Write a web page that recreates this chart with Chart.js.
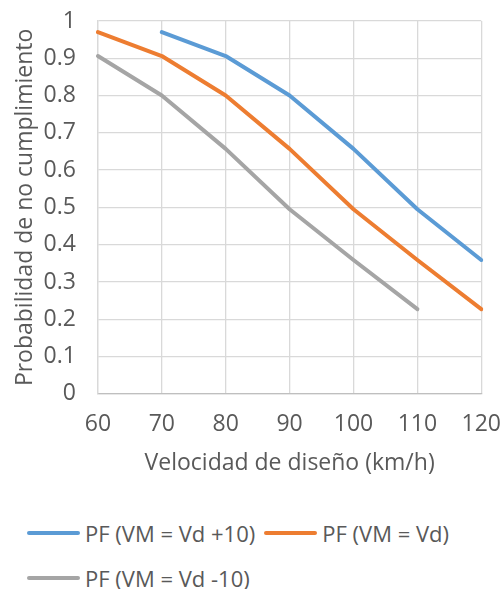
<!DOCTYPE html>
<html>
<head>
<meta charset="utf-8">
<script src="https://cdn.jsdelivr.net/npm/chart.js@4.4.1/dist/chart.umd.min.js"></script>
<style>
  body { margin: 0; background: #fff; font-family: "Open Sans", sans-serif; }
  #wrap { position: relative; width: 503px; height: 589px; overflow: hidden; }
  #chartBox { position: absolute; left: 0; top: 0; width: 503px; height: 480px; }
  #legend { position: absolute; left: 27px; top: 510px; color: #595959; font-size: 22px; }
  .row { display: flex; align-items: center; height: 45px; white-space: nowrap; }
  .item { display: flex; align-items: center; margin-right: 9px; }
  .swatch { width: 53px; height: 4px; border-radius: 2px; margin-right: 5px; }
</style>
</head>
<body>
<div id="wrap">
  <div id="chartBox"><canvas id="chart"></canvas></div>
  <div id="legend"></div>
</div>
<script>
// Datos
const velocidades = ['60', '70', '80', '90', '100', '110', '120'];
const pfMas10 = [null, 0.97, 0.906, 0.80, 0.657, 0.495, 0.359];
const pfIgual = [0.97, 0.906, 0.80, 0.657, 0.495, 0.359, 0.227];
const pfMenos10 = [0.906, 0.80, 0.657, 0.495, 0.359, 0.227, null];
const nombres = ['PF (VM = Vd +10)', 'PF (VM = Vd)', 'PF (VM = Vd -10)'];
const colores = ['#5B9BD5', '#ED7D31', '#A5A5A5'];

const textColor = '#595959';
const gridColor = '#D9D9D9';
const fontFamily = '"Open Sans", sans-serif';
const fontSize = 23;

const series = [pfMas10, pfIgual, pfMenos10];

const ctx = document.getElementById('chart').getContext('2d');
const chart = new Chart(ctx, {
  type: 'line',
  data: {
    labels: velocidades,
    datasets: series.map((data, i) => ({
      label: nombres[i],
      data: data,
      borderColor: colores[i],
      backgroundColor: colores[i],
      borderWidth: 4,
      borderCapStyle: 'round',
      borderJoinStyle: 'round',
      pointRadius: 0,
      tension: 0,
      fill: false
    }))
  },
  options: {
    responsive: true,
    maintainAspectRatio: false,
    animation: false,
    layout: { padding: { top: 21, right: 0, left: 0, bottom: 0 } },
    plugins: {
      legend: { display: false },
      tooltip: { enabled: false }
    },
    scales: {
      x: {
        offset: false,
        // marcas invisibles: solo separan las etiquetas del eje
        grid: { color: gridColor, lineWidth: 1.3, drawTicks: true, tickLength: 15, tickColor: 'rgba(0,0,0,0)' },
        border: { color: '#BFBFBF', width: 1.3 },
        ticks: { color: textColor, font: { family: fontFamily, size: fontSize }, padding: 2, maxRotation: 0 },
        title: {
          display: true,
          text: 'Velocidad de diseño (km/h)',
          color: textColor,
          font: { family: fontFamily, size: fontSize },
          padding: { top: 9, bottom: 3 }
        }
      },
      y: {
        min: 0,
        max: 1,
        grid: { color: gridColor, lineWidth: 1.3, drawTicks: true, tickLength: 20, tickColor: 'rgba(0,0,0,0)' },
        border: { color: gridColor, width: 1.3 },
        ticks: {
          stepSize: 0.1,
          color: textColor,
          font: { family: fontFamily, size: fontSize },
          padding: 2,
          callback: function(value) {
            return String(Math.round(value * 10) / 10);
          }
        },
        title: {
          display: true,
          text: 'Probabilidad de no cumplimiento',
          color: textColor,
          font: { family: fontFamily, size: fontSize },
          padding: { top: 12, bottom: 2 }
        }
      }
    }
  }
});

// Leyenda en HTML (filas como en el original)
const legend = document.getElementById('legend');
const filas = [[0, 1], [2]];
filas.forEach(fila => {
  const row = document.createElement('div');
  row.className = 'row';
  fila.forEach(i => {
    const item = document.createElement('div');
    item.className = 'item';
    const sw = document.createElement('span');
    sw.className = 'swatch';
    sw.style.background = colores[i];
    const txt = document.createElement('span');
    txt.textContent = nombres[i];
    item.appendChild(sw);
    item.appendChild(txt);
    row.appendChild(item);
  });
  legend.appendChild(row);
});
</script>
</body>
</html>
